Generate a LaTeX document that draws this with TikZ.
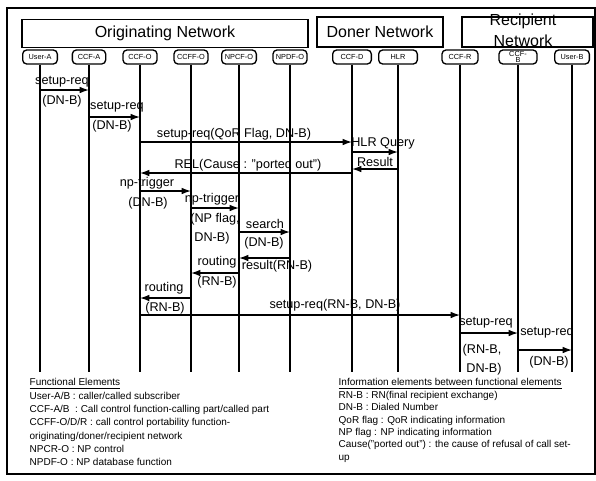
\documentclass[tikz,border=0pt]{standalone}
\usepackage{fontspec}
\setmainfont{Liberation Sans}
\usetikzlibrary{arrows.meta}

\tikzset{every picture/.style={line width=1pt}}
\tikzset{
  netbox/.style={draw, minimum height=21pt, inner sep=0pt, font=\fontsize{12}{14}\selectfont},
  entity/.style={draw, rounded corners=3pt, minimum height=10.5pt, minimum width=26pt, inner sep=0.5pt, font=\fontsize{5.5}{5.5}\selectfont, align=center},
  msg/.style={-{Latex[length=7pt,width=5pt]}},
  lbl/.style={inner sep=0.75pt, font=\fontsize{9.5}{11}\selectfont},
  legend/.style={anchor=north west, inner sep=0pt, align=left},
}

\begin{document}
\begin{tikzpicture}[x=0.75pt,y=0.75pt,yscale=-1,xscale=1]
\useasboundingbox (0,0) rectangle (596,480);

%Frame
\draw (7,8) rectangle (595,474);

%Networks
\node[netbox, minimum width=214.5pt] (orig) at (165,33.5) {Originating Network};
\node[netbox, minimum width=94.5pt, minimum height=22.5pt] (doner) at (380,32) {Doner Network};
\node[netbox, minimum width=98.25pt, minimum height=22.5pt] (recip) at (527.5,32) {};
\node[font=\fontsize{12}{15.5}\selectfont, align=center, inner sep=0pt] (reciptxt) at (523,30) {Recipient\\Network};

%Functional elements
\node[entity, minimum width=26pt] (ua) at (40,57) {User-A};
\node[entity, minimum width=25pt] (ca) at (89,57) {CCF-A};
\node[entity, minimum width=25.5pt] (co) at (140,57) {CCF-O};
\node[entity, minimum width=25.5pt] (cfo) at (191,57) {CCFF-O};
\node[entity, minimum width=26pt] (npc) at (239,57) {NPCF-O};
\node[entity, minimum width=25.5pt] (npd) at (290,57) {NPDF-O};
\node[entity, minimum width=29pt] (cd) at (352,57) {CCF-D};
\node[entity, minimum width=29pt] (hlr) at (398,57) {HLR};
\node[entity, minimum width=27pt] (cr) at (460,57) {CCF-R};
\node[entity, minimum width=28.5pt, font=\fontsize{5.5}{5}\selectfont] (cb) at (518,57) {CCF-\\B};
\node[entity, minimum width=26pt] (ub) at (572,57) {User-B};

%Lifelines
\foreach \n in {ua,ca,co,cfo,npc,npd,cd,hlr,cr,cb,ub}
  \draw (\n.south) -- (\n |- 0,372);

%Messages
\draw[msg] (ua |- 0,90) -- (ca |- 0,90);
\node[lbl] (m1a) at (62,82) {setup-req};
\node[lbl] (m1b) at (62,101) {(DN-B)};

\draw[msg] (ca |- 0,117) -- (co |- 0,117);
\node[lbl] (m2a) at (117,107) {setup-req};
\node[lbl] (m2b) at (112,126) {(DN-B)};

\draw[msg] (co |- 0,142) -- (cd |- 0,142);
\node[lbl] (m3) at (234,134) {setup-req(QoR Flag, DN-B)};

\draw[msg] (cd |- 0,152) -- (hlr |- 0,152);
\node[lbl] (m4) at (383,143) {HLR Query};

\draw[msg] (hlr |- 0,169) -- (cd |- 0,169);
\node[lbl] (m5) at (375,162) {Result};

\draw[msg] (cd |- 0,173) -- (co |- 0,173);
\node[lbl] (m6) at (248,165) {REL(Cause : "ported out")};

\draw[msg] (co |- 0,191) -- (cfo |- 0,191);
\node[lbl] (m7a) at (147,183) {np-trigger};
\node[lbl] (m7b) at (148,203) {(DN-B)};

\draw[msg] (cfo |- 0,208) -- (npc |- 0,208);
\node[lbl] (m8a) at (212,199) {np-trigger};
\node[lbl] (m8b) at (215,219) {(NP flag,};
\node[lbl] (m8c) at (212,238) {DN-B)};

\draw[msg] (npc |- 0,232) -- (npd |- 0,232);
\node[lbl] (m9a) at (265,224) {search};
\node[lbl] (m9b) at (264,243) {(DN-B)};

\draw[msg] (npd |- 0,258) -- (npc |- 0,258);
\node[lbl] (m10) at (277,266) {result(RN-B)};

\draw[msg] (npc |- 0,273) -- (cfo |- 0,273);
\node[lbl] (m11a) at (217,262) {routing};
\node[lbl] (m11b) at (217,282) {(RN-B)};

\draw[msg] (cfo |- 0,298) -- (co |- 0,298);
\node[lbl] (m12a) at (164,288) {routing};
\node[lbl] (m12b) at (165,308) {(RN-B)};

\draw[msg] (co |- 0,315) -- (cr |- 0,315);
\node[lbl] (m13) at (335,305) {setup-req(RN-B, DN-B)};

\draw[msg] (cr |- 0,333) -- (cb |- 0,333);
\node[lbl] (m14a) at (486,323) {setup-req};
\node[lbl] (m14b) at (482,350) {(RN-B,};
\node[lbl] (m14c) at (484,369) {DN-B)};

\draw[msg] (cb |- 0,350) -- (ub |- 0,350);
\node[lbl] (m15a) at (547,333) {setup-req};
\node[lbl] (m15b) at (549,362) {(DN-B)};

%Legends
\node[legend, font=\fontsize{7.5}{10}\selectfont] (felem) at (29,378) {\underline{Functional Elements}\\
User-A/B : caller/called subscriber\\
CCF-A/B \ : Call control function-calling part/called part\\
CCFF-O/D/R : call control portability function-\\
originating/doner/recipient network\\
NPCR-O : NP control\\
NPDF-O : NP database function};
\node[legend, font=\fontsize{7.5}{9.3}\selectfont] (ielem) at (338,378) {\underline{Information elements between functional elements}\\
RN-B : RN(final recipient exchange)\\
DN-B : Dialed Number\\
QoR flag : QoR indicating information\\
NP flag : NP indicating information\\
Cause("ported out") : the cause of refusal of call set-\\
up};

\end{tikzpicture}
\end{document}
